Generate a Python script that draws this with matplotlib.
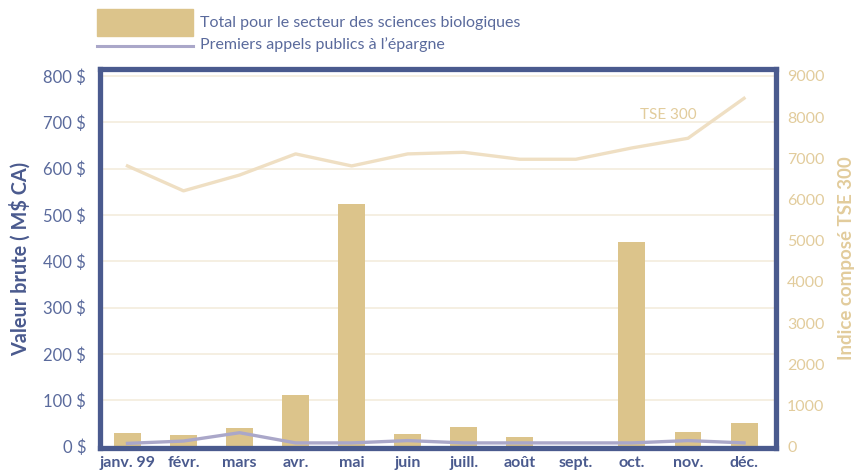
import matplotlib
matplotlib.use("Agg")
import matplotlib.pyplot as plt
from matplotlib.patches import Rectangle
from matplotlib.lines import Line2D

plt.rcParams['font.family'] = ['Lato', 'DejaVu Sans']

months = ["janv. 99", "févr.", "mars", "avr.", "mai", "juin", "juill.",
          "août", "sept.", "oct.", "nov.", "déc."]
total_bio = [30, 26, 41, 112, 524, 28, 43, 20, 0, 442, 32, 50]
ipo = [7, 12, 30, 8, 8, 13, 8, 8, 8, 8, 13, 8]
tse300 = [6815, 6210, 6594, 7107, 6815, 7107, 7146, 6977, 6977, 7252, 7487, 8457]
left_ticks = [0, 100, 200, 300, 400, 500, 600, 700, 800]
left_ticklabels = [f"{v} \\$" for v in left_ticks]
right_ticks = [0, 1000, 2000, 3000, 4000, 5000, 6000, 7000, 8000, 9000]

NAVY = "#4a5a8e"
TICKNAVY = "#5a6a9c"
TAN = "#dcc48b"
TANTXT = "#e2cc9c"
LAV = "#aaa7c9"
BEIGE = "#efdfc3"
GRID = "#f4ecdd"

W, H = 862, 472
fig = plt.figure(figsize=(W / 100, H / 100), dpi=100)
ax = fig.add_axes([100 / W, 1 - 448 / H, 676 / W, (448 - 69) / H])
x = list(range(len(months)))

ax.bar(x, total_bio, width=0.48, color=TAN, zorder=2)
ax.plot(x, ipo, color=LAV, lw=2.4, zorder=3)

ymin, ymax = -3, 815
ax.set_ylim(ymin, ymax)
ax.set_xlim(-0.49, 11.57)
ax.set_yticks(left_ticks)
ax.set_yticklabels(left_ticklabels)
ax.set_xticks(x)
ax.set_xticklabels(months, fontweight="bold")
ax.yaxis.grid(True, color=GRID, lw=1.2, zorder=0)
ax.set_axisbelow(True)
ax.tick_params(axis="y", length=0, pad=10, labelsize=12, labelcolor=TICKNAVY)
ax.tick_params(axis="x", length=0, pad=6, labelsize=11.5, labelcolor=NAVY)
for s in ax.spines.values():
    s.set_color(NAVY)
    s.set_linewidth(3.8)
    s.set_zorder(5)
ax.set_ylabel("Valeur brute ( M\\$ CA)", fontsize=14.3, fontweight="bold",
              color=NAVY, labelpad=9)

ax2 = ax.twinx()
scale = 9000 / 800
ax2.set_ylim(ymin * scale, ymax * scale)
ax2.plot(x, tse300, color=BEIGE, lw=2.4, zorder=2)
ax2.set_yticks(right_ticks)
ax2.set_yticklabels([str(v) for v in right_ticks])
ax2.tick_params(axis="y", length=0, pad=8, labelsize=11.5, labelcolor=TANTXT)
for s in ax2.spines.values():
    s.set_visible(False)
ax2.set_ylabel("Indice composé TSE 300", fontsize=13.5, fontweight="bold",
               color=TANTXT, labelpad=10)
ax2.text(9.65, 8050, "TSE 300", color=TANTXT, fontsize=11, ha="center", va="center")

# legend
fig.add_artist(Rectangle((97 / W, 1 - 36 / H), 96 / W, 27 / H,
                         transform=fig.transFigure, color=TAN))
fig.add_artist(Line2D([97 / W, 193 / W], [1 - 46 / H, 1 - 46 / H],
                      transform=fig.transFigure, color=LAV, lw=2.2))
fig.text(200 / W, 1 - 23 / H, "Total pour le secteur des sciences biologiques",
         color=TICKNAVY, fontsize=11.5, va="center", ha="left")
fig.text(200 / W, 1 - 45 / H, "Premiers appels publics à l’épargne",
         color=TICKNAVY, fontsize=11.5, va="center", ha="left")

fig.savefig("out.png", dpi=100)
